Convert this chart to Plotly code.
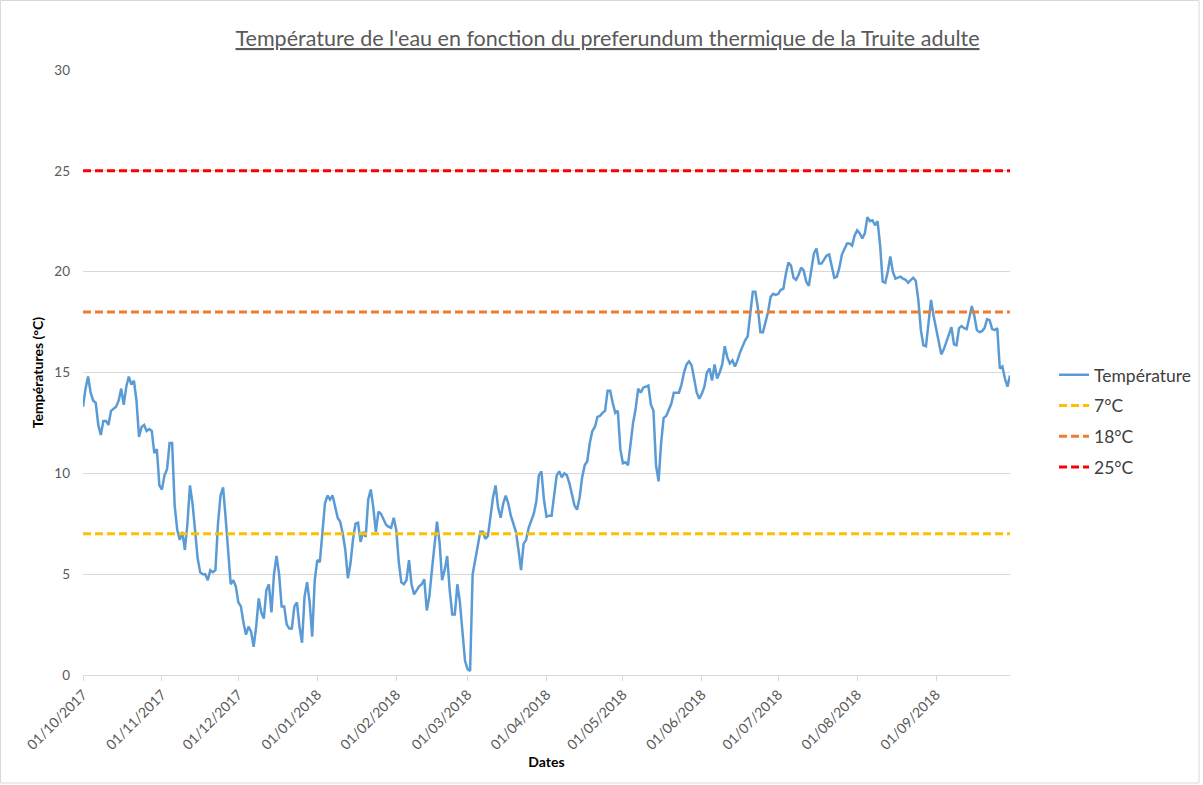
import pandas as pd
import plotly.graph_objects as go

# Daily water temperature (°C), one list per month
oct_2017 = [13.3, 14.2, 14.8, 14.0, 13.6, 13.5, 12.4, 11.9, 12.6, 12.6, 12.4, 13.1, 13.2, 13.3, 13.6, 14.2,
            13.4, 14.3, 14.8, 14.4, 14.6, 13.6, 11.8, 12.3, 12.4, 12.1, 12.2, 12.1, 11.0, 11.2, 9.4]
nov_2017 = [9.2, 9.9, 10.2, 11.5, 11.5, 8.4, 7.2, 6.7, 7.1, 6.2, 7.5, 9.4, 8.5, 7.2, 5.8, 5.1, 5.0, 5.0,
            4.7, 5.2, 5.1, 5.2, 7.5, 8.9, 9.3, 7.8, 6.0, 4.5, 4.7, 4.4]
dec_2017 = [3.6, 3.4, 2.6, 2.0, 2.4, 2.15, 1.4, 2.4, 3.8, 3.1, 2.8, 4.2, 4.5, 3.1, 5.0, 5.9, 5.0, 3.4,
            3.4, 2.5, 2.3, 2.3, 3.4, 3.6, 2.4, 1.6, 3.9, 4.6, 3.6, 1.9, 4.7]
jan_2018 = [5.7, 5.6, 7.0, 8.5, 8.9, 8.7, 8.9, 8.3, 7.8, 7.6, 7.0, 6.2, 4.8, 5.5, 6.7, 7.5, 7.55, 6.6,
            7.1, 6.85, 8.7, 9.2, 8.3, 7.1, 8.1, 8.0, 7.7, 7.45, 7.35, 7.3, 7.8]
feb_2018 = [7.2, 5.6, 4.6, 4.5, 4.7, 5.7, 4.5, 4.0, 4.2, 4.4, 4.5, 4.75, 3.2, 3.9, 5.2, 6.5, 7.6, 6.6,
            4.7, 5.2, 5.9, 4.2, 3.0, 3.0, 4.5, 3.6, 2.0, 0.7]
mar_2018 = [0.3, 0.2, 5.0, 5.7, 6.4, 7.1, 7.1, 6.75, 6.9, 8.0, 8.8, 9.4, 8.3, 7.8, 8.5, 8.9, 8.5, 7.9,
            7.5, 7.1, 6.2, 5.2, 6.5, 6.7, 7.3, 7.7, 8.0, 8.6, 9.9, 10.1, 8.7]
apr_2018 = [7.85, 7.9, 7.9, 8.9, 9.9, 10.1, 9.8, 10.0, 9.9, 9.5, 8.9, 8.4, 8.2, 8.8, 9.8, 10.4, 10.6,
            11.5, 12.1, 12.3, 12.8, 12.85, 13.0, 13.1, 14.1, 14.1, 13.5, 13.0, 13.1, 11.2]
may_2018 = [10.5, 10.55, 10.4, 11.6, 12.5, 13.2, 14.2, 14.0, 14.25, 14.3, 14.35, 13.4, 13.1, 10.4, 9.6,
            11.5, 12.75, 12.85, 13.2, 13.45, 14.0, 14.0, 14.0, 14.4, 15.0, 15.4, 15.55, 15.35, 14.7,
            14.0, 13.7]
jun_2018 = [13.95, 14.3, 15.0, 15.2, 14.6, 15.4, 14.7, 15.0, 15.4, 16.3, 15.75, 15.45, 15.6, 15.3, 15.6,
            16.0, 16.35, 16.6, 16.8, 17.8, 19.0, 19.0, 18.2, 17.0, 17.0, 17.5, 18.0, 18.75, 18.9, 18.85]
jul_2018 = [18.9, 19.1, 19.15, 19.9, 20.45, 20.3, 19.7, 19.6, 19.85, 20.2, 20.05, 19.5, 19.3, 20.1, 20.9,
            21.15, 20.4, 20.4, 20.6, 20.8, 20.85, 20.3, 19.7, 19.75, 20.2, 20.85, 21.1, 21.4, 21.4,
            21.3, 21.8]
aug_2018 = [22.05, 21.9, 21.65, 21.9, 22.7, 22.5, 22.55, 22.3, 22.5, 21.3, 19.5, 19.45, 20.0, 20.75,
            20.0, 19.65, 19.7, 19.75, 19.65, 19.6, 19.45, 19.6, 19.7, 19.55, 18.6, 17.1, 16.35, 16.3,
            17.4, 18.6, 17.8]
sep_2018 = [17.1, 16.4, 15.9, 16.15, 16.5, 16.9, 17.25, 16.4, 16.35, 17.2, 17.3, 17.2, 17.15, 17.7,
            18.3, 17.8, 17.1, 17.0, 17.05, 17.2, 17.65, 17.6, 17.15, 17.1, 17.2, 15.2, 15.3, 14.7,
            14.3, 14.85]

start_date = "2017-10-01"
end_date = "2018-09-30"

thresholds = [7, 18, 25]
threshold_names = ["7°C", "18°C", "25°C"]
threshold_colors = ["#FFC000", "#ED7D31", "#FF0000"]

temperatures = (oct_2017 + nov_2017 + dec_2017 + jan_2018 + feb_2018 + mar_2018 +
                apr_2018 + may_2018 + jun_2018 + jul_2018 + aug_2018 + sep_2018)
dates = pd.date_range(start_date, end_date, freq="D")
assert len(dates) == len(temperatures)

FONT = "Lato"
fig = go.Figure()
fig.add_trace(go.Scatter(
    x=dates, y=temperatures, mode="lines", name="Température",
    line=dict(color="#5B9BD5", width=2.5), legendgroup="t"))
for t, n, c in zip(thresholds, threshold_names, threshold_colors):
    fig.add_trace(go.Scatter(
        x=[dates[0], dates[-1]], y=[t, t], mode="lines", name=n,
        line=dict(color=c, width=3, dash="8px,4px"), legendgroup=n))

fig.update_layout(
    width=1203, height=785,
    margin=dict(l=83, r=193, t=70, b=110, autoexpand=False),
    plot_bgcolor="white", paper_bgcolor="white",
    font=dict(family=FONT, color="#595959", size=13),
    title=dict(text="<u>Température de l'eau en fonction du preferundum thermique de la Truite adulte</u>",
               x=0.505, xanchor="center", y=0.951, yanchor="middle",
               font=dict(family=FONT, size=21.5, color="#595959")),
    legend=dict(x=1.0475, xanchor="left", y=0.42, yanchor="middle",
                font=dict(family=FONT, size=17.5, color="#404040"),
                tracegroupgap=5, bgcolor="rgba(0,0,0,0)"),
    showlegend=True,
)
fig.update_yaxes(
    range=[0, 30], dtick=5, tick0=0, showgrid=True, gridcolor="#D9D9D9", gridwidth=1,
    zeroline=False, showline=False, ticks="", ticklabelstandoff=12,
    tickfont=dict(family=FONT, size=13.5, color="#595959"),
    title=dict(text="<b>Températures (°C)</b>", standoff=7,
               font=dict(family=FONT, size=14, color="#000000")))
fig.update_xaxes(
    range=[start_date, end_date], tickformat="%d/%m/%Y", dtick="M1", tick0=start_date,
    tickangle=-45, showgrid=False, showline=True, linecolor="#D9D9D9", linewidth=1,
    ticks="outside", ticklen=5, tickcolor="#D9D9D9", zeroline=False,
    tickfont=dict(family=FONT, size=14, color="#595959"),
    title=dict(text="<b>Dates</b>", standoff=3,
               font=dict(family=FONT, size=14, color="#000000")))

# outer chart border
fig.add_shape(type="rect", xref="paper", yref="paper",
              x0=-82.5 / 927, x1=(1199 - 83) / 927, y0=(675 - 783) / 605, y1=(675 - 0.5) / 605,
              line=dict(color="#D9D9D9", width=1), layer="below")

fig.write_html("out.html", config={"displayModeBar": False},
               post_script="document.body.style.margin='0';")
